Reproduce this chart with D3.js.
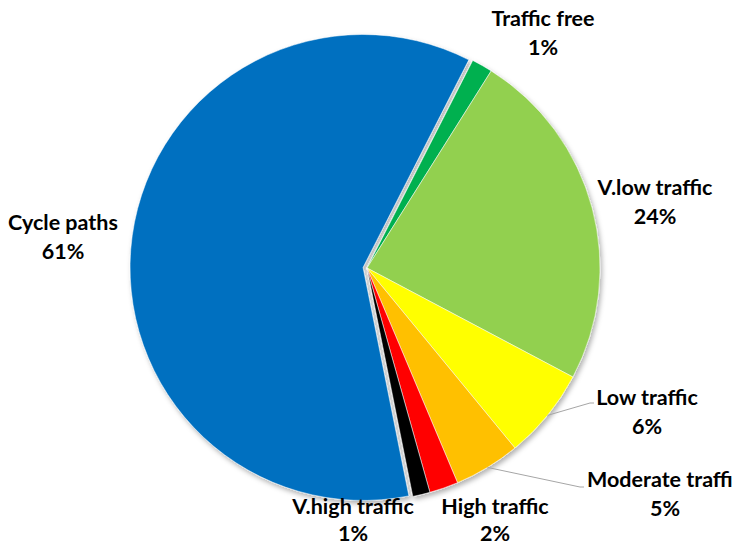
<!DOCTYPE html>
<html><head><meta charset="utf-8">
<script src="https://cdn.jsdelivr.net/npm/d3@7"></script>
<style>body{margin:0;background:#fff}svg{display:block}</style>
</head><body>
<svg id="chart" width="737" height="547"></svg>
<script>
const categories = ["Traffic free","V.low traffic","Low traffic","Moderate traffic","High traffic","V.high traffic","Cycle paths"];
const values = [1.45, 23.8, 6.3, 4.6, 2.0, 1.2, 60.65];
const colors = ["#00B050","#92D050","#FFFF00","#FFC000","#FF0000","#000000","#0070C0"];
const labelNames = ["Traffic free","V.low traffic","Low traffic","Moderate traffi","High traffic","V.high traffic","Cycle paths"];
const labelPct = ["1%","24%","6%","5%","2%","1%","61%"];
const labelPos = [[543,26],[655,195],[647,405],[660,487],[495,514],[353,514],[63,230]];
const explode = [0,0,0,0,0,0,4];

const svg = d3.select("#chart");
const cx = 367, cy = 268, R = 233;
const defs = svg.append("defs");
const f = defs.append("filter").attr("id","sh").attr("x","-10%").attr("y","-10%").attr("width","120%").attr("height","120%");
f.append("feDropShadow").attr("dx",2).attr("dy",3).attr("stdDeviation",2.5).attr("flood-color","#000").attr("flood-opacity",0.3);

const start = 27*Math.PI/180;
const pie = d3.pie().sort(null).value(d=>d).startAngle(start).endAngle(start+2*Math.PI);
const arcs = pie(values);
const arc = d3.arc().innerRadius(0).outerRadius(R);

const g = svg.append("g").attr("transform",`translate(${cx},${cy})`).attr("filter","url(#sh)");
g.selectAll("path").data(arcs).join("path")
  .attr("d",arc)
  .attr("fill",(d,i)=>colors[i])
  .attr("stroke","#fff").attr("stroke-width",0.5)
  .attr("transform",(d,i)=>{
    const m=(d.startAngle+d.endAngle)/2;
    return `translate(${Math.sin(m)*explode[i]},${-Math.cos(m)*explode[i]})`;
  });

// leader lines
const leaders = [[2,[590,403]],[3,[580,487]]];
leaders.forEach(([i,end])=>{
  const d=arcs[i]; const m=(d.startAngle+d.endAngle)/2;
  const x=cx+Math.sin(m)*R, y=cy-Math.cos(m)*R;
  svg.append("polyline").attr("points",`${x},${y} ${end[0]},${end[1]} ${end[0]+4},${end[1]}`)
    .attr("fill","none").attr("stroke","#a6a6a6").attr("stroke-width",1);
});

const lab = svg.append("g").attr("font-family","Lato, 'Open Sans', sans-serif").attr("font-weight","bold").attr("font-size",21.5).attr("fill","#000");
labelNames.forEach((n,i)=>{
  const [x,y]=labelPos[i];
  const anchorStart = i===3;
  const gap = (i===4||i===5) ? 27 : 29;
  lab.append("text").attr("x",anchorStart?587:x).attr("y",y).attr("text-anchor",anchorStart?"start":"middle").text(n);
  lab.append("text").attr("x",anchorStart?665:x).attr("y",y+gap).attr("text-anchor","middle").text(labelPct[i]);
});
</script>
</body></html>
